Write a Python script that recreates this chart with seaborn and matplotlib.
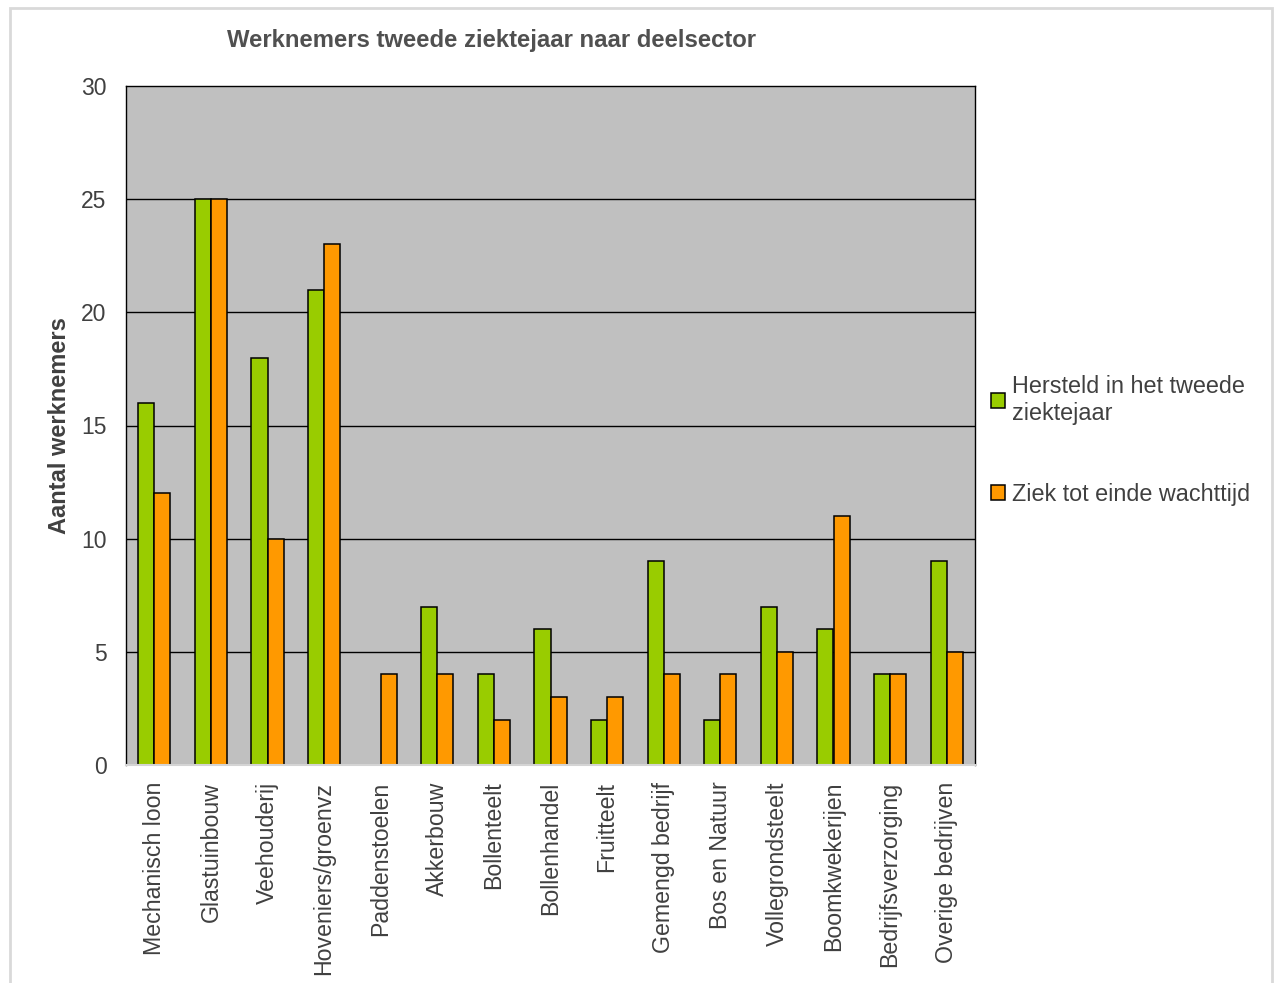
import matplotlib

matplotlib.use("Agg")
import matplotlib.pyplot as plt
import pandas as pd
import seaborn as sns
from matplotlib.patches import Rectangle

sectors = [
    "Mechanisch loon", "Glastuinbouw", "Veehouderij", "Hoveniers/groenvz",
    "Paddenstoelen", "Akkerbouw", "Bollenteelt", "Bollenhandel", "Fruitteelt",
    "Gemengd bedrijf", "Bos en Natuur", "Vollegrondsteelt", "Boomkwekerijen",
    "Bedrijfsverzorging", "Overige bedrijven",
]
hersteld = [16, 25, 18, 21, 0, 7, 4, 6, 2, 9, 2, 7, 6, 4, 9]
ziek = [12, 25, 10, 23, 4, 4, 2, 3, 3, 4, 4, 5, 11, 4, 5]
series = ["Hersteld in het tweede\nziektejaar", "Ziek tot einde wachttijd"]
yticks = [0, 5, 10, 15, 20, 25, 30]

df = pd.DataFrame({
    "sector": sectors * 2,
    "reeks": [series[0]] * len(sectors) + [series[1]] * len(sectors),
    "aantal": hersteld + ziek,
})

sns.set_theme(style="white")
plt.rcParams["font.family"] = ["Liberation Sans", "DejaVu Sans"]
text_color = "#404040"

fig = plt.figure(figsize=(12.74, 9.83), dpi=100)
ax = fig.add_axes([126 / 1274, 1 - 765 / 983, (975 - 126) / 1274, (765 - 86) / 983])
ax.set_facecolor("#c0c0c0")

sns.barplot(
    data=df, x="sector", y="aantal", hue="reeks", order=sectors, hue_order=series,
    palette=["#99cc00", "#ff9900"], width=0.57, gap=0, edgecolor="black",
    linewidth=1.1, saturation=1, ax=ax,
)

ax.set_ylim(0, 30)
ax.set_yticks(yticks)
ax.set_xlim(-0.5, len(sectors) - 0.5)
for y in yticks[1:-1]:
    ax.axhline(y, color="black", linewidth=1, zorder=0.5)
ax.set_axisbelow(True)

ax.tick_params(axis="y", length=0, pad=14, labelsize=16.5, labelcolor=text_color)
ax.tick_params(axis="x", length=0, pad=12, labelsize=16.7, labelcolor=text_color, rotation=90)
ax.set_xlabel("")
ax.set_ylabel("Aantal werknemers", fontsize=17, fontweight="bold", color=text_color, labelpad=7)

for side in ["left", "top", "right"]:
    ax.spines[side].set_color("black")
    ax.spines[side].set_linewidth(1)
ax.spines["bottom"].set_color("#d4d4d4")
ax.spines["bottom"].set_linewidth(1.5)

handles, labels = ax.get_legend_handles_labels()
ax.legend(
    handles, labels, loc="upper left", bbox_to_anchor=(970 / 1274, 1 - 354 / 983),
    bbox_transform=fig.transFigure, frameon=False, fontsize=16.8, labelspacing=2.5,
    handlelength=0.6, handleheight=0.6, handletextpad=0.3, labelcolor=text_color,
)

fig.text(491 / 1274, 1 - 41 / 983, "Werknemers tweede ziektejaar naar deelsector",
         ha="center", va="center", fontsize=17.2, fontweight="bold", color="#505050")

fig.patches.append(Rectangle((10 / 1274, -0.01), 1262 / 1274, 1 - 8 / 983 + 0.01,
                             transform=fig.transFigure, fill=False,
                             edgecolor="#d9d9d9", linewidth=2))

fig.savefig("out.png", dpi=100)
plt.close(fig)
